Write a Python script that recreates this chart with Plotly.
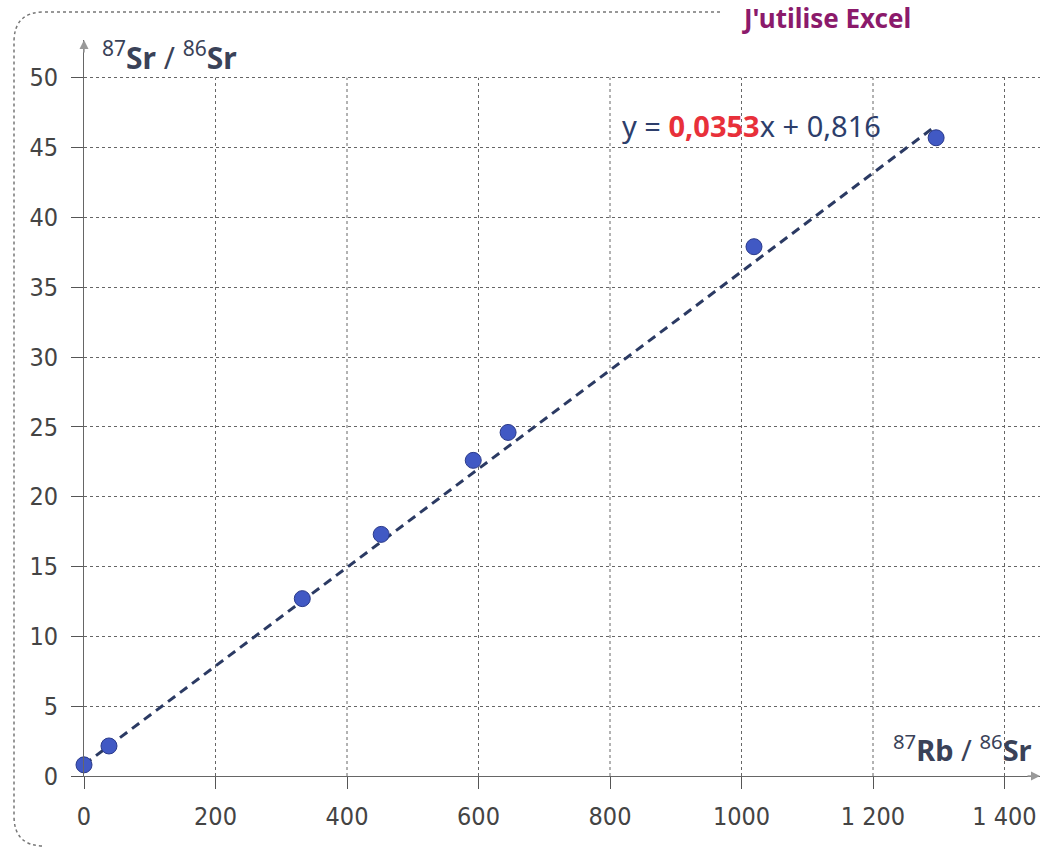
import plotly.graph_objects as go

# ---- data ----
rb_sr = [0, 38, 332, 452, 592, 645, 1019, 1296]          # 87Rb/86Sr
sr_sr = [0.8, 2.15, 12.7, 17.3, 22.6, 24.6, 37.9, 45.7]  # 87Sr/86Sr
slope = 0.0353
intercept = 0.816
trend_x = [0, 1290]
trend_y = [slope * v + intercept for v in trend_x]

x_ticks = [0, 200, 400, 600, 800, 1000, 1200, 1400]
x_ticktext = ["0", "200", "400", "600", "800", "1000", "1 200", "1 400"]
y_ticks = [0, 5, 10, 15, 20, 25, 30, 35, 40, 45, 50]

W, H = 1059, 851
ML, MR, MT, MB = 84, 19, 40, 75
XMAX, YMAX = 1454, 52.7

TICKFONT = "DejaVu Sans Condensed, Liberation Sans Narrow, Noto Sans"

def px(xp):
    return (xp - ML) / (W - ML - MR)

def py(yp):
    return (H - MB - yp) / (H - MT - MB)

fig = go.Figure()

# trendline
fig.add_trace(go.Scatter(
    x=trend_x, y=trend_y, mode="lines",
    line=dict(color="#2b3a63", width=3, dash="9px,6px"),
    hoverinfo="skip", showlegend=False, cliponaxis=False))

# data points
fig.add_trace(go.Scatter(
    x=rb_sr, y=sr_sr, mode="markers",
    marker=dict(size=16, color="#4159c4", line=dict(color="#2a3a8a", width=1)),
    showlegend=False, cliponaxis=False))

shapes = []
# vertical grid lines (stop at 50)
for xv in x_ticks[1:]:
    shapes.append(dict(type="line", xref="x", yref="y", x0=xv, x1=xv, y0=0, y1=50,
                       line=dict(color="#666", width=1, dash="dot"), layer="below"))

# rounded frame (left, top, bottom)
r = 30
frame_path = (f"M {px(720)},{py(12)} L {px(14 + r)},{py(12)} "
              f"Q {px(14)},{py(12)} {px(14)},{py(12 + r)} "
              f"L {px(14)},{py(846 - r)} "
              f"Q {px(14)},{py(846)} {px(14 + r)},{py(846)}")
shapes.append(dict(type="path", xref="paper", yref="paper", path=frame_path,
                   line=dict(color="#777", width=1.5, dash="dot")))

annotations = [
    # equation
    dict(x=815, y=46.6, xref="x", yref="y", xanchor="left", yanchor="middle",
         text="y = <b><span style='color:#e8303a'>0,0353</span></b>x + 0,816",
         showarrow=False, font=dict(family="Noto Sans", size=29, color="#2d3e6b")),
    # y axis title
    dict(x=px(100), y=py(56), xref="paper", yref="paper", xanchor="left", yanchor="middle",
         text="<sup>87</sup><b>Sr</b> / <sup>86</sup><b>Sr</b>", showarrow=False,
         font=dict(family="Noto Sans", size=30, color="#3a4258")),
    # x axis title
    dict(x=px(1034), y=py(748), xref="paper", yref="paper", xanchor="right", yanchor="middle",
         text="<sup>87</sup><b>Rb</b> / <sup>86</sup><b>Sr</b>", showarrow=False,
         font=dict(family="Noto Sans", size=29, color="#3a4258")),
    # header
    dict(x=px(740), y=py(18), xref="paper", yref="paper", xanchor="left", yanchor="middle",
         text="<b>J'utilise Excel</b>", showarrow=False,
         font=dict(family="Noto Sans", size=26, color="#8b1a6b")),
    # axis arrows
    dict(x=0, y=1, xref="paper", yref="paper", ax=0, ay=14, axref="pixel", ayref="pixel",
         text="", showarrow=True, arrowhead=2, arrowsize=1.2, arrowwidth=1.5, arrowcolor="#999"),
    dict(x=1, y=0, xref="paper", yref="paper", ax=-14, ay=0, axref="pixel", ayref="pixel",
         text="", showarrow=True, arrowhead=2, arrowsize=1.2, arrowwidth=1.5, arrowcolor="#999"),
]

fig.update_layout(
    width=W, height=H,
    margin=dict(l=ML, r=MR, t=MT, b=MB),
    paper_bgcolor="white", plot_bgcolor="white",
    shapes=shapes, annotations=annotations,
    xaxis=dict(range=[0, XMAX], tickvals=x_ticks, ticktext=x_ticktext,
               showgrid=False, zeroline=False, showline=True, linecolor="#666", linewidth=1,
               ticks="outside", ticklen=12, tickcolor="#555", ticklabelstandoff=6,
               tickfont=dict(family=TICKFONT, size=25, color="#444")),
    yaxis=dict(range=[0, YMAX], tickvals=y_ticks,
               showgrid=True, gridcolor="#666", gridwidth=1, griddash="dot",
               zeroline=False, showline=True, linecolor="#666", linewidth=1,
               ticks="outside", ticklen=12, tickcolor="#555", ticklabelstandoff=8,
               tickfont=dict(family=TICKFONT, size=25, color="#444")),
)

fig.write_html("out.html")
